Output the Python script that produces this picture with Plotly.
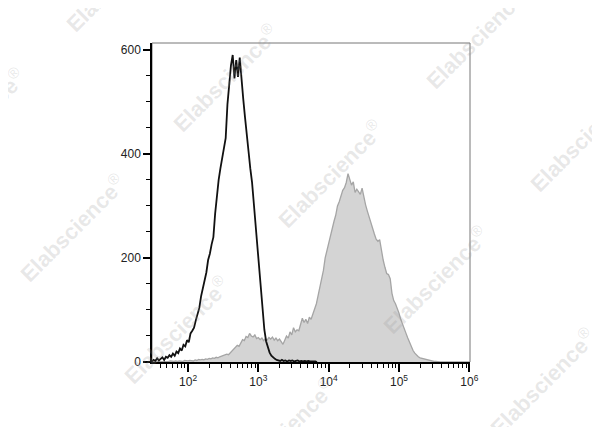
import plotly.graph_objects as go

# ---- data (log10 of fluorescence bin centers start/step, event counts) ----
black_log_start = 1.460
gray_log_start = 1.550
log_step = 0.025

black_counts = [
    3, 1, 4, 2, 7, 3, 6, 9, 4, 10, 8, 13, 10, 16, 12, 20, 17, 26, 22, 33,
    30, 42, 38, 55, 60, 66, 80, 92, 104, 126, 140, 158, 172, 196, 208, 226, 240, 285, 322, 350,
    372, 392, 408, 430, 495, 540, 570, 590, 545, 580, 548, 585, 540, 505, 470, 432, 405, 372, 345, 305,
    262, 222, 180, 135, 95, 62, 40, 26, 18, 12, 8, 6, 4, 3, 2, 4, 2, 3, 1, 3,
    2, 3, 1, 2, 3, 1, 2, 1, 2, 1, 2, 1, 1, 2, 1, 0,
]

gray_counts = [
    0, 0, 1, 0, 1, 1, 0, 1, 2, 1, 1, 2, 1, 2, 2, 1, 3, 2, 2, 3,
    3, 2, 4, 3, 5, 4, 5, 4, 6, 5, 7, 6, 8, 7, 9, 8, 10, 11, 12, 13,
    15, 14, 18, 21, 25, 28, 32, 30, 38, 43, 41, 49, 47, 55, 50, 48, 52, 45, 47, 43,
    46, 41, 45, 42, 47, 44, 48, 42, 46, 41, 44, 38, 34, 42, 50, 46, 58, 52, 66, 58,
    62, 60, 70, 84, 76, 82, 74, 86, 82, 92, 98, 112, 128, 142, 158, 176, 200, 214, 232, 248,
    256, 270, 282, 300, 308, 322, 330, 335, 345, 362, 350, 340, 346, 326, 332, 328, 322, 334, 315, 302,
    290, 278, 266, 254, 246, 236, 232, 235, 214, 196, 182, 170, 168, 160, 132, 118, 112, 104, 94, 82,
    74, 64, 55, 46, 37, 30, 22, 17, 13, 10, 8, 7, 7, 6, 5, 4, 3, 2, 1, 1,
    0, 0,
]

y_tick_vals = [0, 200, 400, 600]
x_tick_vals = [1e2, 1e3, 1e4, 1e5, 1e6]
x_tick_text = ["10<sup>2</sup>", "10<sup>3</sup>", "10<sup>4</sup>", "10<sup>5</sup>", "10<sup>6</sup>"]
watermark_text = "<b>Elabscience</b><sup>\u00ae</sup>"

# ---- build ----
black_x = [10 ** (black_log_start + i * log_step) for i in range(len(black_counts))]
gray_x = [10 ** (gray_log_start + i * log_step) for i in range(len(gray_counts))]

minor_x = [m * 10 ** d for d in range(1, 6) for m in range(2, 10)]

fig = go.Figure()
fig.add_trace(go.Scatter(
    x=gray_x, y=gray_counts, mode="lines", fill="tozeroy",
    line=dict(color="#a5a5a5", width=1.3), fillcolor="#d4d4d4",
))
fig.add_trace(go.Scatter(
    x=black_x, y=black_counts, mode="lines",
    line=dict(color="#111111", width=1.8),
))

# page body has an 8px offset; target plot area: x 152..470, y 43..362
OFF = 8
W, H = 600, 427
L, R, T, B = 152 - OFF, 130 + OFF, 43 - OFF, 65 + OFF
pw, ph = W - L - R, H - T - B

# watermarks (pixel centres in the picture)
wm_centres = [(118, -22), (-28, 122), (225, 78), (478, 35), (72, 228), (330, 174),
              (582, 138), (176, 330), (435, 280), (282, 432), (542, 382)]
for (px, py) in wm_centres:
    fig.add_annotation(
        x=(px - 152) / pw, y=(362 - py) / ph, xref="paper", yref="paper",
        xanchor="center", yanchor="middle",
        text=watermark_text, showarrow=False, textangle=-45,
        font=dict(family="Arial, Liberation Sans", size=22, color="rgba(150,150,150,0.22)"),
    )

fig.add_shape(type="rect", xref="paper", yref="paper", x0=0, y0=0, x1=1, y1=1,
              line=dict(color="#777777", width=1), layer="below")

fig.update_layout(
    width=W, height=H,
    margin=dict(l=L, r=R, t=T, b=B, pad=0),
    paper_bgcolor="white", plot_bgcolor="white",
    showlegend=False,
    font=dict(family="Arial, Liberation Sans", size=12, color="#222222"),
    xaxis=dict(
        type="log", range=[1.487, 6.01],
        tickvals=x_tick_vals, ticktext=x_tick_text,
        ticks="outside", ticklen=8, tickwidth=2, tickcolor="black",
        showline=True, linecolor="black", linewidth=1.5,
        showgrid=False, zeroline=False,
        minor=dict(tickvals=minor_x, ticks="outside", ticklen=4, tickwidth=1.2, tickcolor="black"),
        tickfont=dict(size=12),
    ),
    yaxis=dict(
        range=[0, 613],
        tickvals=y_tick_vals,
        ticks="outside", ticklen=7, tickwidth=2, tickcolor="black",
        showline=True, linecolor="black", linewidth=1.5,
        showgrid=False, zeroline=False,
        minor=dict(dtick=50, ticks="outside", ticklen=4, tickwidth=1.2, tickcolor="black"),
        tickfont=dict(size=12),
    ),
)

fig.write_html("out.html")
